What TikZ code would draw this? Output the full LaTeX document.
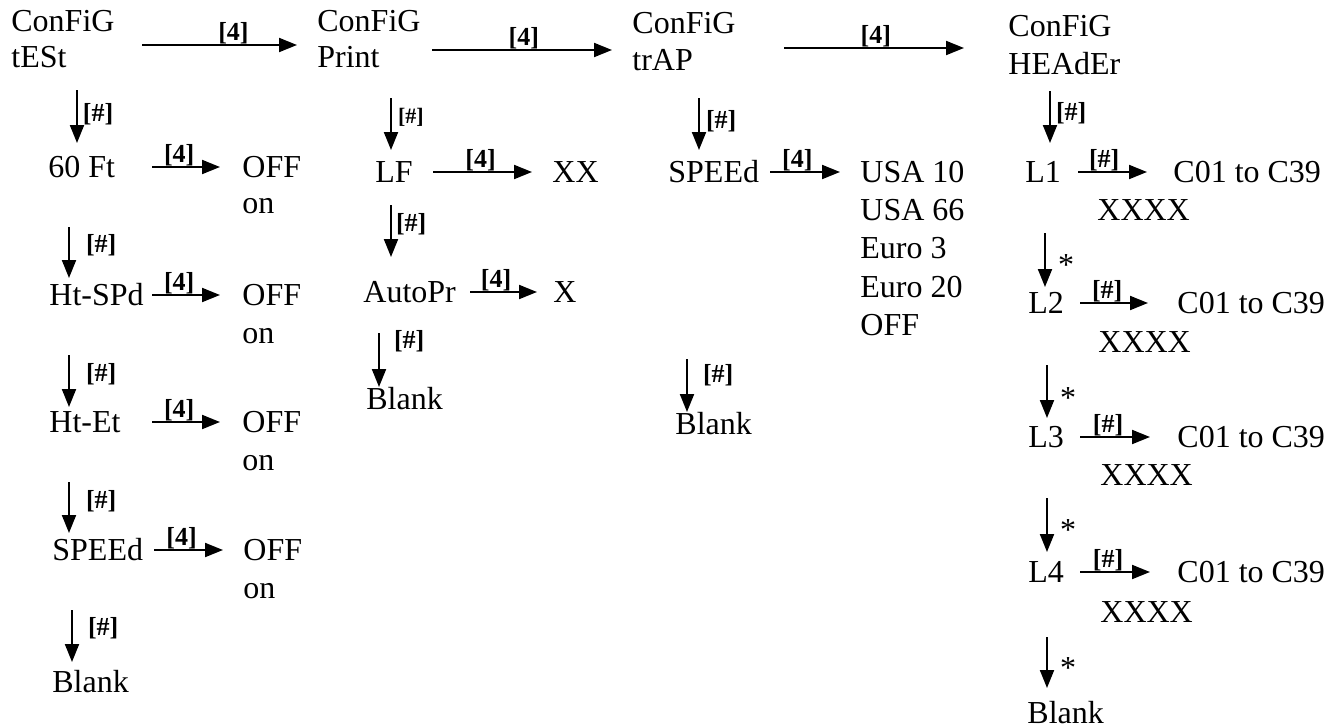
\documentclass[tikz,border=0pt]{standalone}
\usepackage{fontspec}
\setmainfont{Liberation Serif}
\usetikzlibrary{arrows.meta}
\begin{document}
\begin{tikzpicture}[>={Triangle[length=9pt,width=7pt]},x=0.5pt,y=-0.5pt,
		txt/.style={anchor=base west,inner sep=0pt,text height=10pt,text depth=0pt,font=\fontsize{16}{19}\selectfont},
		lbl/.style={inner sep=0pt,font=\fontsize{13}{15}\selectfont\bfseries},
		lbls/.style={inner sep=0pt,font=\fontsize{11}{13}\selectfont\bfseries},
		star/.style={inner sep=0pt,font=\fontsize{16}{19}\selectfont},
		arr/.style={->,line width=1pt}]
		\useasboundingbox (0,0) rectangle (1339,728);
		\node[txt] (cfg1) at (11,32) {ConFiG};
		\node[txt] (tst) at (11,68) {tESt};
		\node[txt] (ft) at (48,177) {60 Ft};
		\node[txt] (off1) at (242,177) {OFF};
		\node[txt] (on1) at (242,213) {on};
		\node[txt] (hsp) at (49,305) {Ht-SPd};
		\node[txt] (off2) at (242,305) {OFF};
		\node[txt] (on2) at (242,343) {on};
		\node[txt] (het) at (49,432) {Ht-Et};
		\node[txt] (off3) at (242,432) {OFF};
		\node[txt] (on3) at (242,470) {on};
		\node[txt] (spd1) at (52,560) {SPEEd};
		\node[txt] (off4) at (243,560) {OFF};
		\node[txt] (on4) at (243,598) {on};
		\node[txt] (bl1) at (52,692) {Blank};
		\node[txt] (cfg2) at (317,32) {ConFiG};
		\node[txt] (prt) at (317,68) {Print};
		\node[txt] (lf) at (375,182) {LF};
		\node[txt] (xx) at (552,182) {XX};
		\node[txt] (apr) at (363,302) {AutoPr};
		\node[txt] (xs) at (553,302) {X};
		\node[txt] (bl2) at (366,409) {Blank};
		\node[txt] (cfg3) at (632,33) {ConFiG};
		\node[txt] (trp) at (632,70) {trAP};
		\node[txt] (spd2) at (668,182) {SPEEd};
		\node[txt] (u10) at (860,182) {USA 10};
		\node[txt] (u66) at (860,220) {USA 66};
		\node[txt] (e3) at (860,258) {Euro 3};
		\node[txt] (e20) at (860,297) {Euro 20};
		\node[txt] (offs) at (860,335) {OFF};
		\node[txt] (bl3) at (675,434) {Blank};
		\node[txt] (cfg4) at (1008,36) {ConFiG};
		\node[txt] (hdr) at (1008,74) {HEAdEr};
		\node[txt] (l1) at (1025,182) {L1};
		\node[txt] (c1) at (1173,182) {C01 to C39};
		\node[txt] (xa) at (1097,220) {XXXX};
		\node[txt] (l2) at (1028,313) {L2};
		\node[txt] (c2) at (1177,313) {C01 to C39};
		\node[txt] (xb) at (1098,352) {XXXX};
		\node[txt] (l3) at (1028,447) {L3};
		\node[txt] (c3) at (1177,447) {C01 to C39};
		\node[txt] (xc) at (1100,485) {XXXX};
		\node[txt] (l4) at (1028,582) {L4};
		\node[txt] (c4) at (1177,582) {C01 to C39};
		\node[txt] (xd) at (1100,622) {XXXX};
		\node[txt] (bl4) at (1027,723) {Blank};
		\draw[arr] ([shift={(131,-13)}]tst.west) -- ([shift={(-20,-13)}]prt.west) node[lbl,above,pos=.59] {[4]};
		\draw[arr] ([shift={(115,-8)}]prt.west) -- ([shift={(-20,-10)}]trp.west) node[lbl,above,pos=.51] {[4]};
		\draw[arr] ([shift={(152,-12)}]trp.west) -- ([shift={(-44,-16)}]hdr.west) node[lbl,above,pos=.51] {[4]};
		\draw[arr] ([xshift=52pt]ft.west) -- ([xshift=-11pt]off1.west) node[lbl,above,pos=.4] {[4]};
		\draw[arr] ([xshift=51.5pt]hsp.west) -- ([xshift=-11pt]off2.west) node[lbl,above,pos=.4] {[4]};
		\draw[arr] ([xshift=51.5pt]het.west) -- ([xshift=-11pt]off3.west) node[lbl,above,pos=.4] {[4]};
		\draw[arr] ([xshift=51pt]spd1.west) -- ([xshift=-10pt]off4.west) node[lbl,above,pos=.4] {[4]};
		\draw[arr] ([xshift=29pt]lf.west) -- ([xshift=-10pt]xx.west) node[lbl,above,pos=.48] {[4]};
		\draw[arr] ([xshift=53.5pt]apr.west) -- ([xshift=-8pt]xs.west) node[lbl,above,pos=.39] {[4]};
		\draw[arr] ([xshift=51pt]spd2.west) -- ([xshift=-10pt]u10.west) node[lbl,above,pos=.39] {[4]};
		\draw[arr] ([xshift=26.5pt]l1.west) -- ([xshift=-13pt]c1.west) node[lbl,above,pos=.38] {[\#]};
		\draw[arr] ([xshift=26pt]l2.west) -- ([xshift=-14.5pt]c2.west) node[lbl,above,pos=.4] {[\#]};
		\draw[arr] ([xshift=26pt]l3.west) -- ([xshift=-13.5pt]c3.west) node[lbl,above,pos=.4] {[\#]};
		\draw[arr] ([xshift=26pt]l4.west) -- ([xshift=-13.5pt]c4.west) node[lbl,above,pos=.4] {[\#]};
		\draw[arr] ([shift={(66,32)}]tst.west) -- ([shift={(29,-24)}]ft.west) node[lbl,right=2.5pt,pos=.45] {[\#]};
		\draw[arr] ([shift={(21,60)}]ft.west) -- ([shift={(20,-17)}]hsp.west) node[lbl,right=8pt,pos=.35] {[\#]};
		\draw[arr] ([shift={(20,60)}]hsp.west) -- ([shift={(20,-15)}]het.west) node[lbl,right=8pt,pos=.37] {[\#]};
		\draw[arr] ([shift={(20,60)}]het.west) -- ([shift={(17,-17)}]spd1.west) node[lbl,right=8pt,pos=.37] {[\#]};
		\draw[arr] ([shift={(20,60)}]spd1.west) -- ([shift={(20,-20)}]bl1.west) node[lbl,right=7.5pt,pos=.35] {[\#]};
		\draw[arr] ([shift={(74,40)}]prt.west) -- ([shift={(16,-22)}]lf.west) node[lbls,right=3pt,pos=.38] {[\#]};
		\draw[arr] ([shift={(16,33)}]lf.west) -- ([shift={(28,-35)}]apr.west) node[lbl,right=2pt,pos=.37] {[\#]};
		\draw[arr] ([shift={(16,41)}]apr.west) -- ([shift={(13,-12)}]bl2.west) node[lbl,right=7pt,pos=.15] {[\#]};
		\draw[arr] ([shift={(67,38)}]trp.west) -- ([shift={(31,-22)}]spd2.west) node[lbl,right=3pt,pos=.44] {[\#]};
		\draw[arr] ([shift={(19,187)}]spd2.west) -- ([shift={(12,-12)}]bl3.west) node[lbl,right=7.5pt,pos=.3] {[\#]};
		\draw[arr] ([shift={(42,27)}]hdr.west) -- ([shift={(25,-29)}]l1.west) node[lbl,right=2.5pt,pos=.42] {[\#]};
		\draw[arr] ([shift={(20,61)}]l1.west) -- ([shift={(17,-16)}]l2.west) node[star,right=6pt,pos=.6] {*};
		\draw[arr] ([shift={(19,62)}]l2.west) -- ([shift={(19,-19)}]l3.west) node[star,right=6pt,pos=.62] {*};
		\draw[arr] ([shift={(19,61)}]l3.west) -- ([shift={(19,-20)}]l4.west) node[star,right=6pt,pos=.6] {*};
		\draw[arr] ([shift={(19,65)}]l4.west) -- ([shift={(20,-25)}]bl4.west) node[star,right=6pt,pos=.6] {*};
\end{tikzpicture}
\end{document}
